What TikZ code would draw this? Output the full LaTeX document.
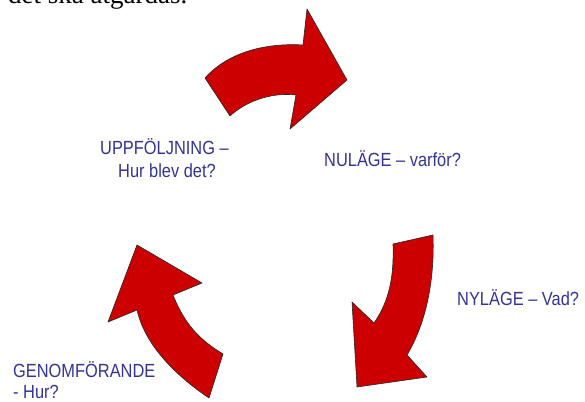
\documentclass[tikz,border=0pt]{standalone}
\usepackage{fontspec}
\setmainfont{Liberation Serif}
\newfontfamily\lblfont{Liberation Sans}
\definecolor{arrowred}{RGB}{204,0,0}
\definecolor{lblblue}{RGB}{51,51,153}
\tikzset{
  cyclearrow/.style={fill=arrowred, draw=black!85, line width=0.6pt, line join=round},
  lbl/.style={anchor=base west, inner sep=0pt, text=lblblue, font=\lblfont\fontsize{16.4}{19}\selectfont},
}
\newcommand{\tallt}[1]{\scalebox{1}[1.16]{#1}}
\begin{document}
\begin{tikzpicture}[x=1pt,y=-1pt]
\useasboundingbox (0,0) rectangle (585,401);
\clip (0,0) rectangle (585,401);
\fill[white] (0,0) rectangle (585,401);
% clipped heading line
\node[anchor=base west, inner sep=0pt, font=\fontsize{27}{30}\selectfont] (head) at (8,4) {det ska åtgärdas.};
% top arrow
\draw[cyclearrow] (205,78) .. controls (230,50) and (270,43) .. (303,45)
  -- (307,9) -- (347,80) -- (290,129) -- (296,95)
  .. controls (270,92) and (245,102) .. (230,116) -- cycle;
% right arrow
\draw[cyclearrow] (393,244) -- (433,235)
  .. controls (435,290) and (422,330) .. (407,355)
  -- (427,377) -- (357,387) -- (352,302) -- (374,323)
  .. controls (390,300) and (394,275) .. (393,244) -- cycle;
% left arrow
\draw[cyclearrow] (137,245) -- (202,283) -- (173,295)
  .. controls (185,325) and (200,340) .. (223,354)
  -- (209,398)
  .. controls (175,375) and (145,345) .. (137,310)
  -- (108,322) -- cycle;
% labels
\node[lbl] (upp1) at (100,154) {\tallt{UPPFÖLJNING –}};
\node[lbl] (upp2) at (118,177) {\tallt{Hur blev det?}};
\node[lbl] (nul) at (324,166) {\tallt{NULÄGE – varför?}};
\node[lbl] (nyl) at (457,305) {\tallt{NYLÄGE – Vad?}};
\node[lbl] (gen1) at (13,377) {\tallt{GENOMFÖRANDE}};
\node[lbl] (gen2) at (13,398) {\tallt{- Hur?}};
\end{tikzpicture}
\end{document}
